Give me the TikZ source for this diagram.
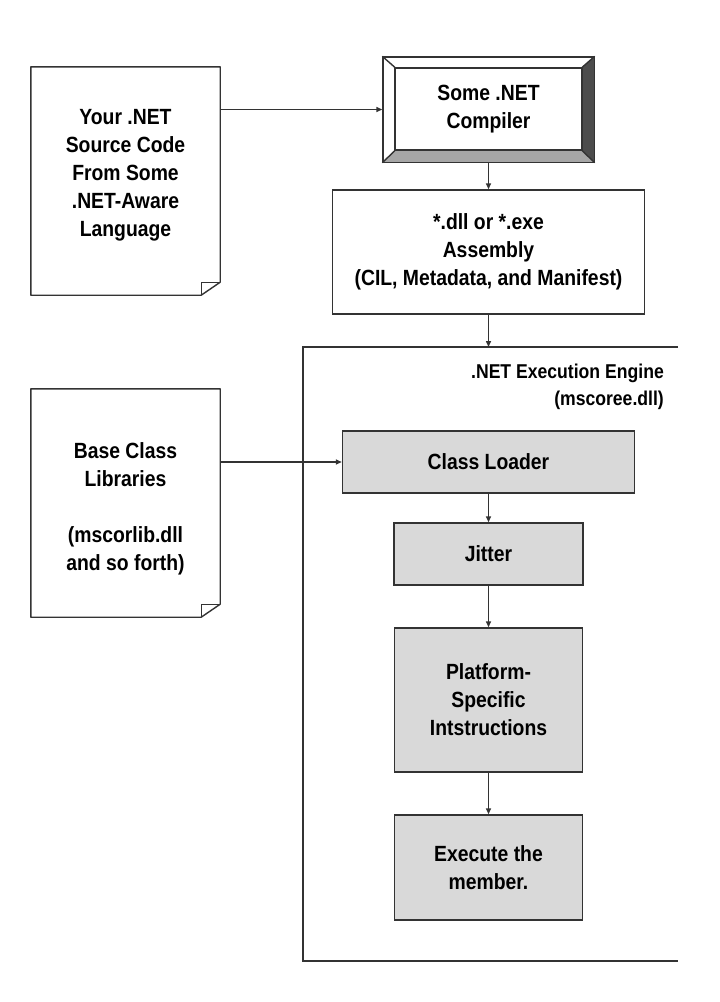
\documentclass[tikz,border=0pt]{standalone}
\usepackage{fontspec}
\setmainfont{Liberation Sans}[FakeStretch=0.88]
\usepackage{tikz}
\usetikzlibrary{calc, positioning, arrows.meta}
\newcommand{\bigtext}{\fontsize{22}{28}\selectfont\bfseries}
\newcommand{\smalltext}{\fontsize{20}{27}\selectfont\bfseries}
\tikzset{
line/.style={draw=black!80, line width=1.4pt},
doc/.style={minimum width=189pt, minimum height=228pt, inner sep=0pt},
doctext/.style={align=center, font=\bigtext, inner sep=0pt},
plainbox/.style={line, fill=white, align=center, font=\bigtext},
process/.style={line, fill=black!15, align=center, font=\bigtext},
flow/.style={line, -{Triangle[length=6pt,width=5pt]}}
}
% outline of a page with a folded corner
\newcommand{\dogear}[1]{%
\draw[line, line join=round] (#1.north west) -- (#1.north east) -- ($(#1.south east)+(0,13)$)
  -- ($(#1.south east)+(-19,0)$) -- (#1.south west) -- cycle;
\draw[line, line join=round] ($(#1.south east)+(0,13)$) -- ($(#1.south east)+(-19,13)$)
  -- ($(#1.south east)+(-19,0)$);
}

\begin{document}
\begin{tikzpicture}[x=1pt, y=1pt]
\useasboundingbox (0,0) rectangle (720,-1002);
			\node[doc] (srcdoc) at (125.5,-181) {};
			\node[doctext] (srctext) at (125.5,-175.5) {Your .NET\\Source Code\\From Some\\.NET-Aware\\Language};
			\node[doc] (bcldoc) at (125.5,-503) {};
			\node[doctext] (bcltext) at (125.5,-509) {Base Class\\Libraries\\[28pt](mscorlib.dll\\and so forth)};
			\node[line, fill=white, minimum width=211pt, minimum height=105pt] (compiler) at (488.5,-109.5) {};
			\node[plainbox, minimum width=186pt, minimum height=82pt] (compilerin) at (488.5,-109) {Some .NET\\Compiler};
			\node[plainbox, minimum width=312pt, minimum height=124pt] (assembly) at (488.5,-252) {*.dll or *.exe\\Assembly\\(CIL, Metadata, and Manifest)};
			\coordinate (engtop) at (488.5,-347);
			\node[font=\smalltext, align=right, anchor=north east, inner sep=0pt] (englabel) at (664,-364) {.NET Execution Engine\\(mscoree.dll)};
			\node[process, minimum width=292pt, minimum height=62pt] (loader) at (488.5,-462) {Class Loader};
			\node[process, minimum width=189pt, minimum height=62pt] (jitter) at (488.5,-554) {Jitter};
			\node[process, minimum width=188pt, minimum height=144pt] (platform) at (488.5,-700) {Platform-\\Specific\\Intstructions};
			\node[process, minimum width=188pt, minimum height=105pt] (execute) at (488.5,-867.5) {Execute the\\member.};
			% ----
			\dogear{srcdoc}
			\dogear{bcldoc}

			\fill[black!35] (compiler.south west) -- (compiler.south east) -- (compilerin.south east) -- (compilerin.south west) -- cycle;
			\fill[black!70] (compiler.south east) -- (compiler.north east) -- (compilerin.north east) -- (compilerin.south east) -- cycle;
			\draw[line] (compiler.north west) rectangle (compiler.south east);
			\draw[line] (compilerin.north west) rectangle (compilerin.south east);
			\foreach \c in {north west, north east, south west, south east}
				\draw[line] (compiler.\c) -- (compilerin.\c);

			\draw[line] (678,-347) -- (303,-347) -- (303,-961) -- (678,-961);

			\draw[flow] (srcdoc.north east |- compiler.west) -- (compiler.west);
			\draw[flow] (compiler.south) -- (assembly.north);
			\draw[flow] (assembly.south) -- (engtop);
			\draw[flow] (bcldoc.north east |- loader.west) -- (loader.west);
			\draw[flow] (loader) -- (jitter);
			\draw[flow] (jitter) -- (platform);
			\draw[flow] (platform) -- (execute);
\end{tikzpicture}
\end{document}
